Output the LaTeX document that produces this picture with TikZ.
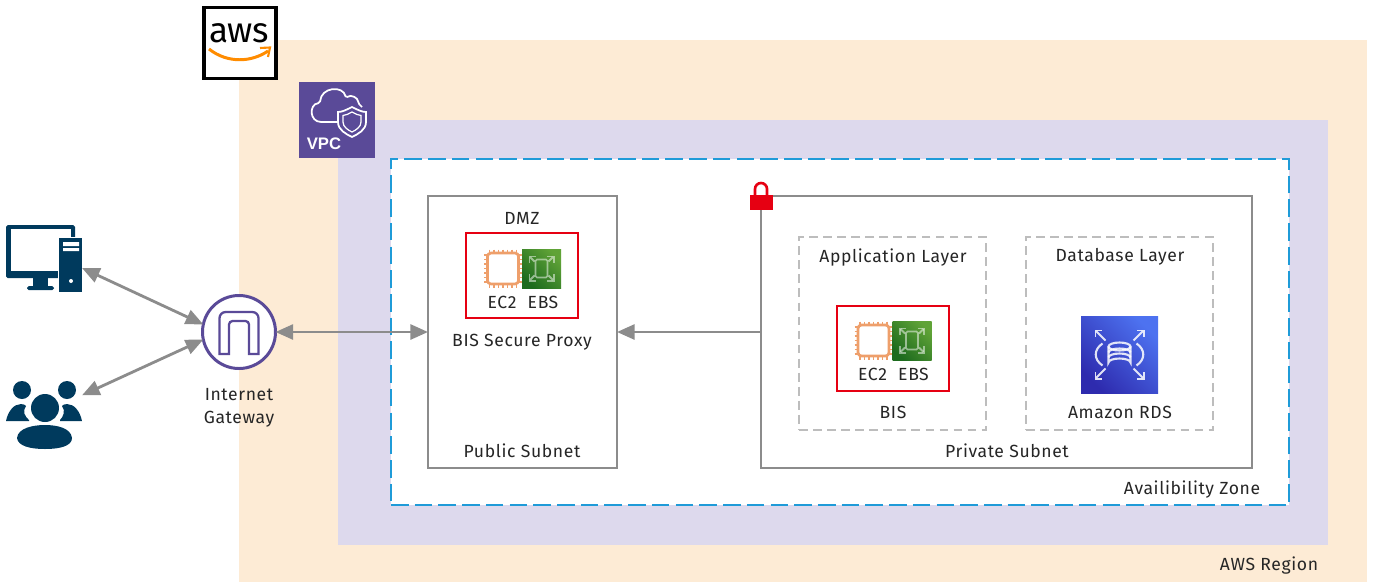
\documentclass[tikz,border=0pt]{standalone}
\usepackage{fontspec}
\setmainfont[LetterSpace=3.5]{Fira Sans}
\newfontfamily\vpcfont{Liberation Sans}
\newfontfamily\awsfont[LetterSpace=-2]{Fira Sans}
\usetikzlibrary{arrows.meta, calc}
\definecolor{regionfill}{HTML}{FDEBD5}
\definecolor{vpcfill}{HTML}{DDD9ED}
\definecolor{vpcpurple}{HTML}{5A4A98}
\definecolor{azblue}{HTML}{1F9BD8}
\definecolor{subnetgray}{HTML}{8C8C8C}
\definecolor{layergray}{HTML}{BDBDBD}
\definecolor{boxred}{HTML}{E60012}
\definecolor{chiporange}{HTML}{EE9F6B}
\definecolor{navyicon}{HTML}{003A5D}
\definecolor{ebslow}{HTML}{1D6B1E}
\definecolor{ebshigh}{HTML}{60A337}
\definecolor{rdslow}{HTML}{2E2BAE}
\definecolor{rdshigh}{HTML}{4D72F0}
\newcommand*{\px}{0.02cm}
\tikzset{
  every node/.style = {font=\fontsize{10}{13}\selectfont, text=black!85, inner sep=0pt, outer sep=0pt},
  plate/.style      = {rectangle, minimum width=#1*\px},
  subnet/.style     = {draw=subnetgray, line width=1.55pt, fill=white},
  layer/.style      = {draw=layergray, line width=1.4pt, dash pattern=on 5pt off 3pt},
  redbox/.style     = {draw=boxred, line width=1.4pt},
  link/.style       = {draw=subnetgray, line width=1.6pt, >={Triangle[length=10pt,width=8.5pt]}},
  ebsicon/.style    = {rectangle, minimum size=39*\px, bottom color=ebslow, top color=ebshigh, shading angle=-45},
  rdsicon/.style    = {rectangle, minimum size=77*\px, bottom color=rdslow, top color=rdshigh, shading angle=-45},
}
% four small arrows pointing away from a centre
\newcommand*{\cornerarrows}[4]{%
  \foreach \sx/\sy in {-1/-1,1/-1,-1/1,1/1}
    \draw[white, opacity=#4, line width=1.1pt, -{Straight Barb[length=2.5pt,width=5pt]}]
      ($(#1)+(\sx*#2,\sy*#2)$) -- ($(#1)+(\sx*#3,\sy*#3)$);
}
% orange chip and green volume, with their labels
\newcommand*{\computepair}[3]{%
  \begin{scope}[shift={(#1,#2)}]
    \foreach \t in {-13.5,-9,-4.5,0,4.5,9,13.5} {
      \draw[chiporange, line width=.8pt] (\t,-19) -- (\t,19);
      \draw[chiporange, line width=.8pt] (-19,\t) -- (19,\t);
    }
    \node[draw=chiporange, line width=1.5pt, fill=white, rounded corners=2pt, minimum size=31*\px] (#3chip) at (0,0) {};
    \node[ebsicon] (#3ebs) at (38.5,0) {};
    \cornerarrows{#3ebs}{7}{13}{.5}
    \draw[white, opacity=.5, line width=.9pt, rounded corners=.8pt] (32.5,-9) rectangle (44.5,9);
    \node (#3ectwo) at (-1,34) {EC2};
    \node (#3ebslabel) at (40,34) {EBS};
  \end{scope}
}
\begin{document}
\begin{tikzpicture}[x=\px, y=-\px]
  \useasboundingbox (0,0) rectangle (1375,582);
  % nested regions
  \node[plate=1128, minimum height=542*\px, fill=regionfill] (awsRegion) at (803,311) {};
  \node[plate=990, minimum height=425*\px, fill=vpcfill] (vpcArea) at (833,332.5) {};
  \node[plate=898, minimum height=346*\px, fill=white, draw=azblue, line width=1.1pt, dash pattern=on 10pt off 3.5pt] (availZone) at (840,332) {};
  \node[plate=189, minimum height=272*\px, subnet] (publicSubnet) at (522.5,332) {};
  \node[plate=491, minimum height=272*\px, subnet] (privateSubnet) at (1006.5,332) {};
  \node[plate=187, minimum height=193*\px, layer] (appLayer) at (892.5,333.5) {};
  \node[plate=187, minimum height=193*\px, layer] (dbLayer) at (1119.5,333.5) {};
  \node[plate=112, minimum height=85*\px, redbox] (proxyBox) at (522,275.5) {};
  \node[plate=112, minimum height=85*\px, redbox] (bisBox) at (893,348.5) {};

  % aws badge
  \node[plate=72, minimum height=71*\px, fill=white, draw=black, line width=2.1pt] (awsBadge) at (239.8,43) {};
  \node[font=\awsfont\fontsize{20}{20}\selectfont, text=black] (awsWord) at (239,33) {aws};
  \draw[orange!90!yellow, line width=1.7pt] (209,49) .. controls (228,64) and (252,62) .. (268,51);
  \draw[orange!90!yellow, line width=1.2pt] (260,48) -- (270,47.5) -- (268,57);

  % vpc badge
  \node[plate=76, minimum height=76*\px, fill=vpcpurple] (vpcBadge) at (337,120) {};
  \draw[white, line width=1pt, rounded corners=1pt] (337,122) -- (323,122)
    .. controls (309,122) and (309,104) .. (320,103)
    .. controls (321,87) and (343,85) .. (346,98)
    .. controls (351,94) and (358,98) .. (358,103) -- (362,107);
  \draw[white, fill=vpcpurple, line width=1pt] (352,107) .. controls (346,110) and (342,112) .. (338,112)
    -- (338,122) .. controls (338,130) and (346,134) .. (352,137)
    .. controls (358,134) and (366,130) .. (366,122) -- (366,112)
    .. controls (362,112) and (358,110) .. (352,107) -- cycle;
  \draw[white, line width=.7pt] (352,112) .. controls (349,114) and (346,115) .. (343,115.5)
    -- (343,122) .. controls (343,127) and (348,130) .. (352,132)
    .. controls (356,130) and (361,127) .. (361,122) -- (361,115.5)
    .. controls (358,115) and (355,114) .. (352,112) -- cycle;
  \node[font=\vpcfont\fontsize{9.5}{10}\selectfont\bfseries, text=white] (vpcWord) at (324,144) {VPC};

  % users on the left
  \node[plate=76, minimum height=67*\px] (computer) at (44,258.5) {};
  \fill[navyicon, rounded corners=1pt] (6,225) rectangle (75,278);
  \fill[white] (10.5,229) rectangle (71,271);
  \fill[navyicon] (33,278) rectangle (48,287);
  \fill[navyicon, rounded corners=1pt] (27,286) rectangle (54,290);
  \fill[navyicon, draw=white, line width=.5pt] (58.5,237.5) rectangle (82,292);
  \fill[white] (63,242) rectangle (79,246) (63,248) rectangle (79,251) (71,281) circle (2);
  \node[plate=76, minimum height=69*\px] (people) at (44,415.5) {};
  \fill[navyicon] (22,390) circle (9) (67,390) circle (9);
  \fill[navyicon] (6,421) .. controls (8,411) and (14,404) .. (21,404) .. controls (24,404) and (25,405) .. (26,406)
    .. controls (22,411) and (25,417) .. (29,420) -- (29,421) -- cycle;
  \fill[navyicon] (82,421) .. controls (80,411) and (74,404) .. (67,404) .. controls (64,404) and (63,405) .. (62,406)
    .. controls (66,411) and (63,417) .. (60,420) -- (60,421) -- cycle;
  \fill[navyicon] (45,408) circle (14);
  \fill[navyicon] (17,438) .. controls (18,428) and (33,425) .. (45,425) .. controls (57,425) and (71,428) .. (72,438)
    .. controls (72,446) and (60,449) .. (45,449) .. controls (30,449) and (18,446) .. (17,438) -- cycle;

  % gateway
  \node[circle, minimum size=73*\px, draw=vpcpurple, line width=1.7pt, fill=white] (gateway) at (239,332) {};
  \draw[vpcpurple, line width=1.3pt] (219.5,354) [rounded corners=3.5pt] -- (219.5,312) -- (258.5,312) [sharp corners] -- (258.5,354)
    -- (249,354) [rounded corners=2pt] -- (249,321) -- (229,321) [sharp corners] -- (229,354) -- cycle;
  \node[align=center] (gatewayLabel) at (239,408) {Internet\\Gateway};

  % lock on the private subnet
  \draw[boxred, line width=1.5pt] (755,196) -- (755,189) arc[start angle=180, end angle=360, radius=6] -- (767,196);
  \fill[boxred] (750,195) rectangle (773,210);

  % labels and icons
  \node (dmzLabel) at (522,218) {DMZ};
  \computepair{503}{268.5}{proxy}
  \node (proxyLabel) at (522,342) {BIS Secure Proxy};
  \node (publicLabel) at (522,451) {Public Subnet};
  \node (appLabel) at (893,258) {Application Layer};
  \computepair{873.5}{340.5}{bis}
  \node (bisLabel) at (893,412) {BIS};
  \node (dbLabel) at (1120,257) {Database Layer};
  \node[rdsicon] (rds) at (1119.5,354.5) {};
  \cornerarrows{rds}{14}{25}{.85}
  \begin{scope}[shift={(1119.5,354.5)}, white, opacity=.85, line width=1.2pt]
    \draw (0,-8) ellipse[x radius=11, y radius=4];
    \draw (-11,-8) -- (-11,8) arc[start angle=180, end angle=360, x radius=11, y radius=4] -- (11,-8);
    \draw (-11,-2) arc[start angle=180, end angle=360, x radius=11, y radius=4];
    \draw (-11,3) arc[start angle=180, end angle=360, x radius=11, y radius=4];
    \draw (-17,-11) .. controls (-26,-5) and (-26,5) .. (-17,11);
    \draw (17,-11) .. controls (26,-5) and (26,5) .. (17,11);
  \end{scope}
  \node (rdsLabel) at (1120,412) {Amazon RDS};
  \node (privateLabel) at (1007,451) {Private Subnet};
  \node (azLabel) at (1192,490) {Availibility Zone};
  \node (regionLabel) at (1269,566) {AWS Region};

  % connectors
  \draw[link, <->] (computer.-14) -- (gateway.168);
  \draw[link, <->] (people.28) -- (gateway.192);
  \draw[link, <->] (gateway.east) -- (publicSubnet.west);
  \draw[link, ->] (privateSubnet.west) -- (publicSubnet.east);
\end{tikzpicture}
\end{document}
